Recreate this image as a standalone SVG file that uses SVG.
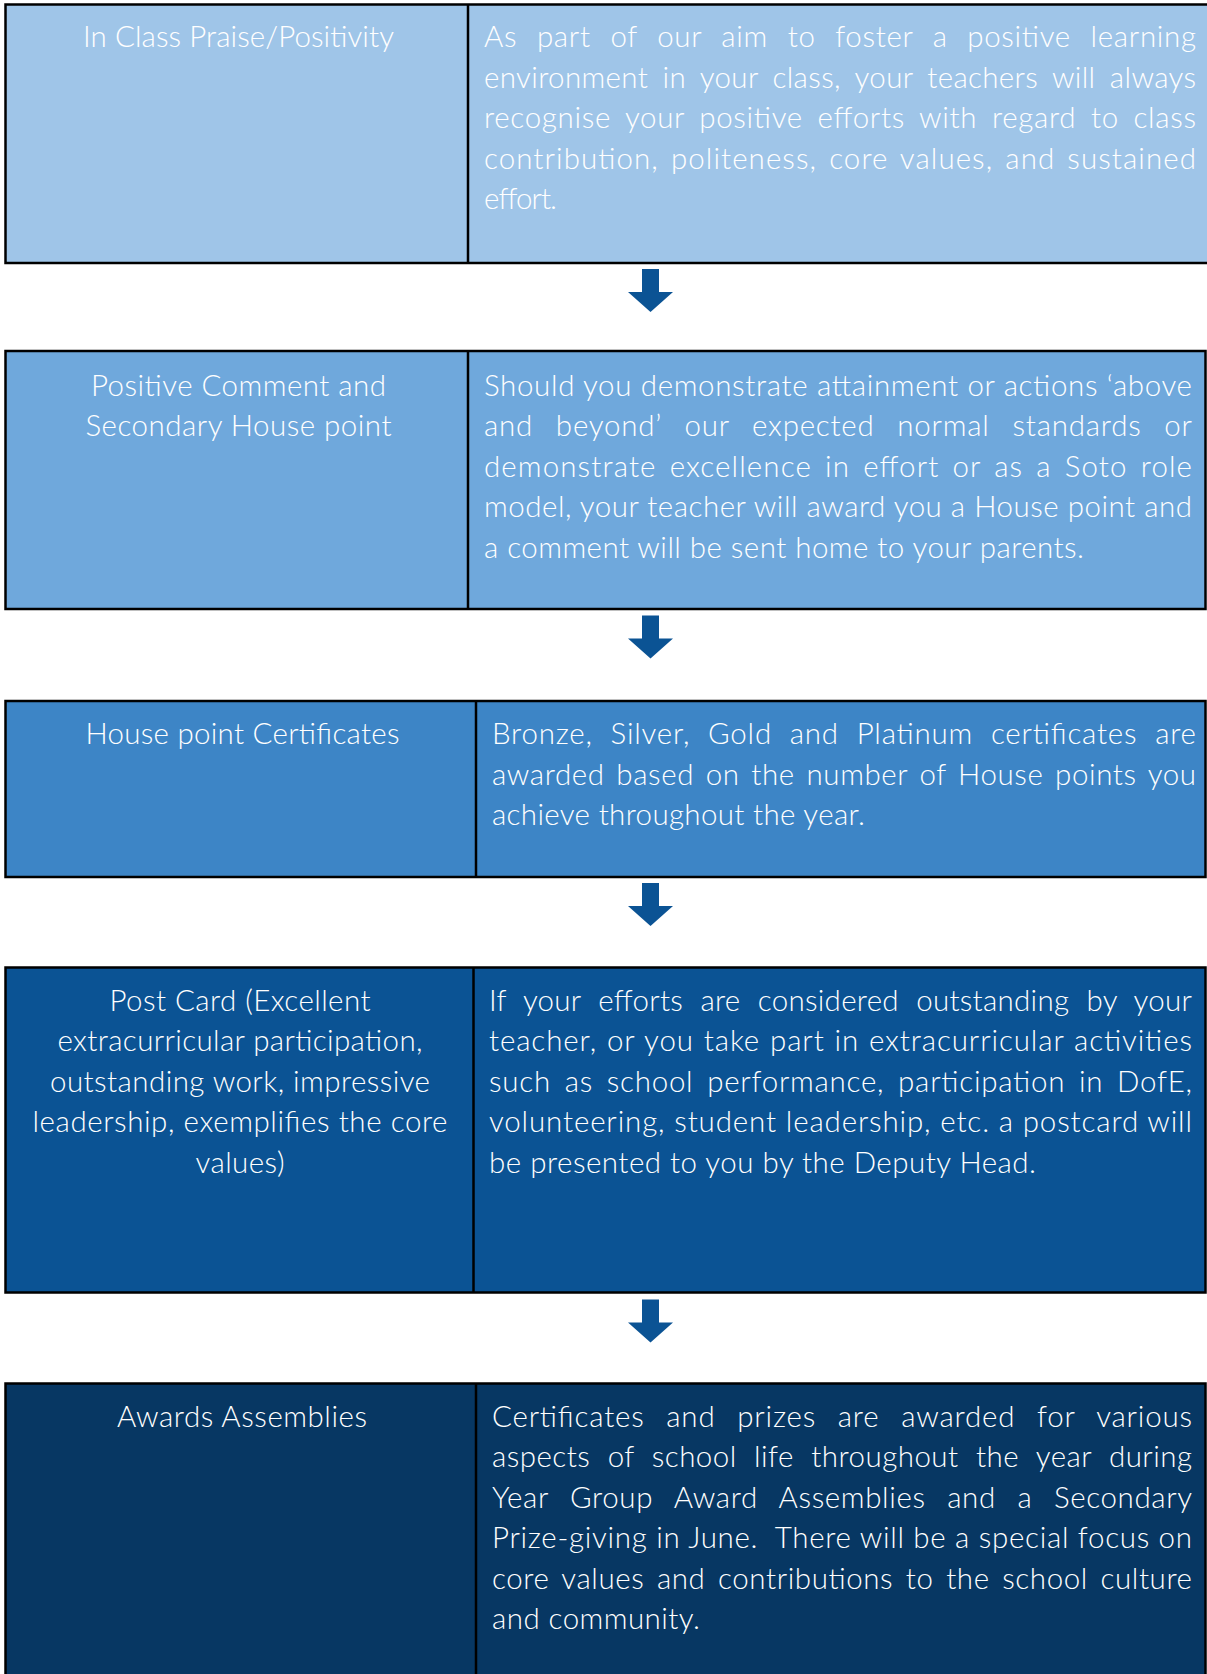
<svg xmlns="http://www.w3.org/2000/svg" width="1207" height="1674" viewBox="0 0 1207 1674">
<style>
.box{stroke:#000;stroke-width:2.5}
.div{stroke:#000;stroke-width:2.5}
.t{font-family:Lato,"Liberation Sans",sans-serif;font-size:29.5px;font-weight:300;fill:#fff}
.c{text-anchor:middle}
</style>
<defs>
<path id="arrow" d="M642,0 H659 V23 H673 L650.5,43 L628,23 H642 Z" fill="#0b5394"/>
</defs>
<rect width="1207" height="1674" fill="#fff"/>

<g id="node1">
<rect class="box" x="5.5" y="4.5" width="1206" height="258.5" fill="#9fc5e8"/>
<line class="div" x1="468" y1="4.5" x2="468" y2="263"/>
<text class="t c" x="238.5" y="47" textLength="311" lengthAdjust="spacing">In Class Praise/Positivity</text>
<text class="t" x="484" y="47" textLength="712" lengthAdjust="spacing" word-spacing="11">As part of our aim to foster a positive learning</text>
<text class="t" x="484" y="87.5" textLength="712" lengthAdjust="spacing" word-spacing="6">environment in your class, your teachers will always</text>
<text class="t" x="484" y="128" textLength="712" lengthAdjust="spacing" word-spacing="6">recognise your positive efforts with regard to class</text>
<text class="t" x="484" y="168.5" textLength="712" lengthAdjust="spacing" word-spacing="3">contribution, politeness, core values, and sustained</text>
<text class="t" x="484" y="209" textLength="73" lengthAdjust="spacing">effort.</text>
</g>

<g id="node2">
<rect class="box" x="5.5" y="351" width="1200" height="258" fill="#6fa8dc"/>
<line class="div" x1="468" y1="351" x2="468" y2="609"/>
<text class="t c" x="238.5" y="395.5" textLength="295" lengthAdjust="spacing">Positive Comment and</text>
<text class="t c" x="238.5" y="436" textLength="306" lengthAdjust="spacing">Secondary House point</text>
<text class="t" x="484" y="395.5" textLength="708" lengthAdjust="spacing">Should you demonstrate attainment or actions ‘above</text>
<text class="t" x="484" y="436" textLength="708" lengthAdjust="spacing" word-spacing="14">and beyond’ our expected normal standards or</text>
<text class="t" x="484" y="476.5" textLength="708" lengthAdjust="spacing" word-spacing="4">demonstrate excellence in effort or as a Soto role</text>
<text class="t" x="484" y="517" textLength="708" lengthAdjust="spacing">model, your teacher will award you a House point and</text>
<text class="t" x="484" y="557.5" textLength="600" lengthAdjust="spacing">a comment will be sent home to your parents.</text>
</g>

<g id="node3">
<rect class="box" x="5.5" y="701" width="1200" height="176" fill="#3d85c6"/>
<line class="div" x1="476" y1="701" x2="476" y2="877"/>
<text class="t c" x="242.5" y="744" textLength="314" lengthAdjust="spacing">House point Certificates</text>
<text class="t" x="492" y="744" textLength="704" lengthAdjust="spacing" word-spacing="9">Bronze, Silver, Gold and Platinum certificates are</text>
<text class="t" x="492" y="784.5" textLength="704" lengthAdjust="spacing" word-spacing="3">awarded based on the number of House points you</text>
<text class="t" x="492" y="825" textLength="373" lengthAdjust="spacing">achieve throughout the year.</text>
</g>

<g id="node4">
<rect class="box" x="5.5" y="967.5" width="1200" height="325" fill="#0b5394"/>
<line class="div" x1="473.5" y1="967.5" x2="473.5" y2="1292.5"/>
<text class="t c" x="240" y="1010.5" textLength="261" lengthAdjust="spacing">Post Card (Excellent</text>
<text class="t c" x="240" y="1051" textLength="365" lengthAdjust="spacing">extracurricular participation,</text>
<text class="t c" x="240" y="1091.5" textLength="380" lengthAdjust="spacing">outstanding work, impressive</text>
<text class="t c" x="240" y="1132" textLength="415" lengthAdjust="spacing">leadership, exemplifies the core</text>
<text class="t c" x="240" y="1172.5" textLength="89" lengthAdjust="spacing">values)</text>
<text class="t" x="489" y="1010.5" textLength="703" lengthAdjust="spacing" word-spacing="9">If your efforts are considered outstanding by your</text>
<text class="t" x="489" y="1051" textLength="703" lengthAdjust="spacing" word-spacing="1">teacher, or you take part in extracurricular activities</text>
<text class="t" x="489" y="1091.5" textLength="703" lengthAdjust="spacing" word-spacing="5">such as school performance, participation in DofE,</text>
<text class="t" x="489" y="1132" textLength="703" lengthAdjust="spacing">volunteering, student leadership, etc. a postcard will</text>
<text class="t" x="489" y="1172.5" textLength="547" lengthAdjust="spacing">be presented to you by the Deputy Head.</text>
</g>

<g id="node5">
<rect class="box" x="5.5" y="1383.5" width="1200" height="300" fill="#073763"/>
<line class="div" x1="476" y1="1383.5" x2="476" y2="1684"/>
<text class="t c" x="242" y="1426.5" textLength="250" lengthAdjust="spacing">Awards Assemblies</text>
<text class="t" x="492" y="1426.5" textLength="700" lengthAdjust="spacing" word-spacing="13">Certificates and prizes are awarded for various</text>
<text class="t" x="492" y="1467" textLength="700" lengthAdjust="spacing" word-spacing="9">aspects of school life throughout the year during</text>
<text class="t" x="492" y="1507.5" textLength="700" lengthAdjust="spacing" word-spacing="13">Year Group Award Assemblies and a Secondary</text>
<text class="t" x="492" y="1548" textLength="700" lengthAdjust="spacing">Prize-giving in June.&#160; There will be a special focus on</text>
<text class="t" x="492" y="1588.5" textLength="700" lengthAdjust="spacing" word-spacing="4">core values and contributions to the school culture</text>
<text class="t" x="492" y="1629" textLength="208" lengthAdjust="spacing">and community.</text>
</g>

<g id="connectors">
<use href="#arrow" y="269"/>
<use href="#arrow" y="615.5"/>
<use href="#arrow" y="883"/>
<use href="#arrow" y="1299.5"/>
</g>
</svg>
